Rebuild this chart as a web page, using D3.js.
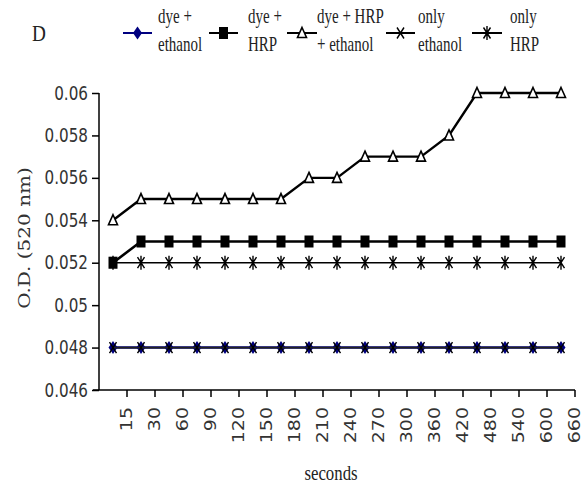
<!DOCTYPE html>
<html>
<head>
<meta charset="utf-8">
<script src="https://cdn.jsdelivr.net/npm/d3@7"></script>
<title>OD chart D</title>
<style>
body { margin: 0; background: #fff; }
</style>
</head>
<body>
<script>

// data
var categories = ["15", "30", "60", "90", "120", "150", "180", "210", "240", "270", "300", "360", "420", "480", "540", "600", "660"];
var dyeEthanol = [0.048, 0.048, 0.048, 0.048, 0.048, 0.048, 0.048, 0.048, 0.048, 0.048, 0.048, 0.048, 0.048, 0.048, 0.048, 0.048, 0.048];
var dyeHRP = [0.052, 0.053, 0.053, 0.053, 0.053, 0.053, 0.053, 0.053, 0.053, 0.053, 0.053, 0.053, 0.053, 0.053, 0.053, 0.053, 0.053];
var dyeHRPEthanol = [0.054, 0.055, 0.055, 0.055, 0.055, 0.055, 0.055, 0.056, 0.056, 0.057, 0.057, 0.057, 0.058, 0.06, 0.06, 0.06, 0.06];
var onlyEthanol = [0.048, 0.048, 0.048, 0.048, 0.048, 0.048, 0.048, 0.048, 0.048, 0.048, 0.048, 0.048, 0.048, 0.048, 0.048, 0.048, 0.048];
var onlyHRP = [0.052, 0.052, 0.052, 0.052, 0.052, 0.052, 0.052, 0.052, 0.052, 0.052, 0.052, 0.052, 0.052, 0.052, 0.052, 0.052, 0.052];
var yTicks = [0.046, 0.048, 0.05, 0.052, 0.054, 0.056, 0.058, 0.06];
var yTickLabels = ["0.046", "0.048", "0.05", "0.052", "0.054", "0.056", "0.058", "0.06"];
var legendNames = [["dye +", "ethanol"], ["dye +", "HRP"], ["dye + HRP", "+ ethanol"], ["only", "ethanol"], ["only", "HRP"]];

var width = 587,
    height = 491;
var plotLeft = 99, plotRight = 575, plotTop = 93, plotBottom = 390;
var sx = 0.8; // text in the picture is squeezed sideways

var svg = d3.select("body")
  .append("svg")
  .attr("width", width)
  .attr("height", height);

var x = d3.scaleBand()
    .domain(categories)
    .range([plotLeft, plotRight]);

var y = d3.scaleLinear()
    .domain([0.046, 0.06])
    .range([plotBottom, plotTop]);

// y axis
var yAxis = svg.append("g")
  .attr("transform", "translate(" + plotLeft + ",0)")
  .call(d3.axisLeft(y)
    .tickValues(yTicks)
    .tickSize(7)
    .tickFormat(function(d, i) { return yTickLabels[i]; }));
yAxis.select(".domain").remove();
yAxis.selectAll("line").attr("stroke", "#000").attr("stroke-width", 1.5);
yAxis.append("line")
  .attr("x1", 0).attr("x2", 0)
  .attr("y1", plotTop).attr("y2", plotBottom)
  .attr("stroke", "#000").attr("stroke-width", 1.5);
yAxis.selectAll("text")
  .attr("x", -11 / sx)
  .attr("transform", "scale(" + sx + ",1)")
  .attr("font-family", "DejaVu Sans")
  .attr("font-size", 19)
  .attr("fill", "#333");

// x axis: ticks sit on the band edges
var xAxis = svg.append("g")
  .attr("transform", "translate(" + (x.bandwidth() / 2) + "," + plotBottom + ")")
  .call(d3.axisBottom(x).tickSize(7));
xAxis.select(".domain").remove();
xAxis.selectAll("line").attr("stroke", "#000").attr("stroke-width", 1.5);
xAxis.selectAll("text")
  .attr("x", 0)
  .attr("y", 0)
  .attr("dy", "0.35em")
  .attr("text-anchor", "end")
  .attr("transform", "translate(0,17) scale(" + sx + ",1) rotate(-90)")
  .attr("font-family", "DejaVu Sans")
  .attr("font-size", 19)
  .attr("fill", "#333");
svg.append("line")
  .attr("x1", plotLeft - 6).attr("x2", plotRight)
  .attr("y1", plotBottom).attr("y2", plotBottom)
  .attr("stroke", "#000").attr("stroke-width", 1.5);

// titles
function squeezed(tx, ty, extra) {
  return "translate(" + tx + "," + ty + ") scale(" + sx + ",1)" + (extra || "");
}
svg.append("text")
  .attr("transform", squeezed(24, 238, " rotate(-90)"))
  .attr("text-anchor", "middle")
  .attr("dy", "0.35em")
  .attr("font-family", "DejaVu Serif")
  .attr("font-size", 20)
  .attr("fill", "#333")
  .text("O.D. (520 nm)");
svg.append("text")
  .attr("transform", squeezed(331, 480))
  .attr("text-anchor", "middle")
  .attr("font-family", "Liberation Serif")
  .attr("font-size", 21)
  .attr("fill", "#222")
  .text("seconds");
svg.append("text")
  .attr("transform", squeezed(32, 41))
  .attr("font-family", "Liberation Serif")
  .attr("font-size", 24)
  .attr("fill", "#222")
  .text("D");

// markers
function marker(g, type, cx, cy) {
  if (type == "diamond") {
    g.append("path")
      .attr("d", "M" + cx + "," + (cy - 6.5) + "L" + (cx + 4.5) + "," + cy + "L" + cx + "," + (cy + 6.5) + "L" + (cx - 4.5) + "," + cy + "Z")
      .attr("fill", "#000080");
  } else if (type == "square") {
    g.append("rect")
      .attr("x", cx - 4.5).attr("y", cy - 6)
      .attr("width", 9).attr("height", 12)
      .attr("fill", "#000");
  } else if (type == "triangle") {
    g.append("path")
      .attr("d", "M" + cx + "," + (cy - 5.5) + "L" + (cx + 4.5) + "," + (cy + 4.5) + "L" + (cx - 4.5) + "," + (cy + 4.5) + "Z")
      .attr("fill", "#fff").attr("stroke", "#000").attr("stroke-width", 1.6);
  } else {
    var d = "M" + (cx - 3.5) + "," + (cy - 5.5) + "L" + (cx + 3.5) + "," + (cy + 5.5) +
            "M" + (cx + 3.5) + "," + (cy - 5.5) + "L" + (cx - 3.5) + "," + (cy + 5.5);
    if (type == "star") d += "M" + cx + "," + (cy - 7) + "L" + cx + "," + (cy + 7);
    g.append("path").attr("d", d).attr("fill", "none").attr("stroke", "#000").attr("stroke-width", 1.4);
  }
}

var series = [
  { values: dyeHRPEthanol, color: "#000", type: "triangle", w: 2.4 },
  { values: onlyHRP, color: "#000", type: "star", w: 1.6 },
  { values: dyeHRP, color: "#000", type: "square", w: 2.6 },
  { values: dyeEthanol, color: "#000080", type: "diamond", w: 2.4 },
  { values: onlyEthanol, color: "#222", type: "x", w: 1.8 }
];

var line = d3.line()
  .x(function(d, i) { return x(categories[i]) + x.bandwidth() / 2; })
  .y(function(d) { return y(d); });

series.forEach(function(s) {
  var g = svg.append("g");
  g.append("path")
    .attr("d", line(s.values))
    .attr("fill", "none")
    .attr("stroke", s.color)
    .attr("stroke-width", s.w);
  s.values.forEach(function(v, i) {
    marker(g, s.type, x(categories[i]) + x.bandwidth() / 2, y(v));
  });
});

// legend
var legendLines = [[123, 152], [209, 238], [287, 317], [386, 415], [472, 502]];
var legendText = [158, 248, 317, 418, 510];
var legendTypes = ["diamond", "square", "triangle", "x", "star"];
var legendColors = ["#000080", "#000", "#000", "#000", "#000"];
var ly = 33;

legendNames.forEach(function(name, i) {
  var g = svg.append("g");
  g.append("line")
    .attr("x1", legendLines[i][0]).attr("x2", legendLines[i][1])
    .attr("y1", ly).attr("y2", ly)
    .attr("stroke", legendColors[i]).attr("stroke-width", 2);
  marker(g, legendTypes[i], (legendLines[i][0] + legendLines[i][1]) / 2, ly);
  name.forEach(function(t, j) {
    g.append("text")
      .attr("transform", "translate(" + legendText[i] + "," + (23 + j * 28) + ") scale(0.75,1)")
      .attr("font-family", "Liberation Serif")
      .attr("font-size", 20)
      .attr("fill", "#222")
      .text(t);
  });
});

</script>
</body>
</html>
